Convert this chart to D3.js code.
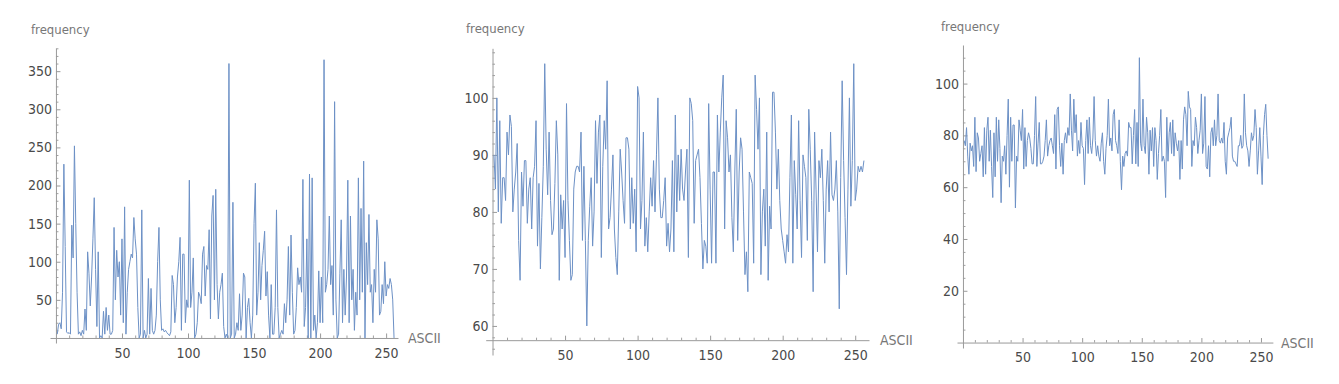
<!DOCTYPE html>
<html><head><meta charset="utf-8">
<script src="https://cdn.jsdelivr.net/npm/d3@7"></script>
<style>
body{margin:0;background:#fff;}
svg{display:block;}
.tl text{font-family:"Liberation Sans Narrow","DejaVu Sans Condensed","Liberation Sans",sans-serif;font-size:14px;fill:#4a4a4a;}
.lab{font-family:"Liberation Sans Narrow","DejaVu Sans Condensed","Liberation Sans",sans-serif;font-size:13px;fill:#777;}
</style></head><body>
<script>
// ASCII code frequencies, index 1..256
const plainFreq = [5,18,20,12,60,228,120,8,6,7,
5,148,105,252,150,60,5,8,3,10,
5,38,10,113,85,42,80,130,184,90,
15,113,0,3,0,35,5,40,10,30,
5,5,10,145,50,115,80,100,30,130,
20,172,5,60,90,100,110,105,158,130,
110,40,0,5,168,0,10,0,5,78,
5,65,10,5,10,30,100,145,50,10,
12,8,10,7,5,3,8,82,70,20,
40,80,100,132,10,110,110,20,50,40,
207,40,60,105,0,5,20,60,55,45,
110,120,55,95,90,142,25,160,187,50,
195,70,25,60,70,85,15,0,5,0,
360,0,5,178,0,5,20,10,58,10,
30,85,80,0,40,52,20,0,30,150,
203,30,60,125,50,95,115,140,55,87,
30,0,70,5,5,40,168,40,0,5,
10,5,45,20,50,120,30,135,60,5,
10,40,92,70,80,60,208,15,40,130,
0,215,0,210,10,30,0,20,88,20,
80,20,365,60,70,90,160,70,95,30,
310,50,0,5,85,155,20,90,30,80,
207,20,160,50,90,10,60,30,210,50,
170,60,232,0,125,70,162,60,70,20,
90,60,155,130,30,35,70,45,100,55,
70,65,78,70,50,0];

const cipherFreq = [90,84,100,80,96,78,86,86,82,94,
90,97,95,80,84,87,92,75,68,87,
81,89,89,78,84,86,77,86,88,96,
74,85,70,79,88,106,91,83,94,82,
76,77,85,96,90,68,83,77,82,72,
99,82,75,68,69,84,87,88,88,87,
94,75,88,75,60,75,81,86,74,80,
96,85,94,97,72,88,96,91,103,77,
79,84,90,77,72,69,80,91,87,82,
78,93,93,91,77,86,78,84,73,102,
100,77,82,94,74,79,73,80,86,81,
89,80,90,100,84,79,79,82,86,74,
78,73,77,89,73,97,80,90,82,91,
84,82,87,91,72,100,99,96,78,89,
90,91,86,78,70,75,74,71,99,84,
71,87,87,71,97,87,94,100,104,77,
96,93,87,90,79,73,87,98,75,87,
93,91,80,69,73,66,87,86,85,71,
104,98,91,100,69,80,84,74,94,68,
81,77,101,101,94,84,91,82,77,75,
73,71,76,73,86,97,71,89,83,77,
96,82,72,90,88,86,75,98,91,82,
66,94,84,73,89,86,91,82,71,84,
89,80,94,83,82,84,89,80,63,86,
103,89,79,69,84,100,81,89,106,82,
84,88,87,88,87,89];

const randFreq = [78,76,83,72,65,77,74,76,68,87,
66,81,79,70,73,76,64,83,65,82,
87,70,82,68,56,81,64,87,70,86,
75,54,72,70,76,65,80,94,60,87,
70,84,84,52,72,70,86,82,78,90,
67,83,68,78,81,79,75,69,69,80,
95,68,77,85,69,69,70,72,78,86,
72,76,78,79,76,73,88,67,90,91,
76,68,77,65,78,81,77,83,80,96,
82,74,94,81,88,72,78,73,85,76,
75,61,78,86,73,87,76,73,79,95,
78,72,76,72,70,77,81,70,65,75,
80,94,76,79,74,88,90,78,76,73,
86,70,59,72,68,73,74,72,85,83,
83,69,80,90,69,85,68,110,77,74,
94,76,73,87,81,65,82,74,83,68,
83,78,63,73,80,90,70,72,70,56,
87,70,81,85,73,86,72,81,77,74,
78,63,78,67,86,91,88,76,97,91,
90,68,78,76,87,83,73,78,82,96,
73,77,95,68,67,76,64,81,83,76,
86,76,80,96,78,77,79,77,85,70,
65,79,81,83,87,72,70,70,69,68,
76,76,80,75,76,96,81,76,74,68,
74,81,78,80,90,83,65,74,83,72,
61,80,88,92,80,71];

const xTicks = [50,100,150,200,250];
const yTicks1 = [50,100,150,200,250,300,350];
const yTicks2 = [60,70,80,90,100];
const yTicks3 = [20,40,60,80,100];
const xLabel = "ASCII", yLabel = "frequency";

const panels = [
  {data: plainFreq, xd:[-4.5,259], xr:[50,398], yd:[-6.6,380], yr:[343,48.3], xAxisAt:0,
   yTicks:yTicks1, yMinor:d3.range(10,381,10), xMinor:d3.range(10,259,10),
   freqPos:[31,34], asciiPos:[408,343]},
  {data: cipherFreq, xd:[-4.7,259.5], xr:[485.7,869], yd:[54.9,108.7], yr:[355,48.3], xAxisAt:57.5,
   yTicks:yTicks2, yMinor:d3.range(56,109,2), xMinor:d3.range(10,259,10),
   freqPos:[466,33], asciiPos:[880,345]},
  {data: randFreq, xd:[-5,260], xr:[957,1272.9], yd:[-2.1,114.9], yr:[348,45], xAxisAt:0,
   yTicks:yTicks3, yMinor:d3.range(5,115,5), xMinor:d3.range(10,260,10),
   freqPos:[941,31], asciiPos:[1281,348]}
];

const svg = d3.select("body").append("svg").attr("width",1339).attr("height",384);
svg.append("rect").attr("width",1339).attr("height",384).attr("fill","#fff");

panels.forEach(p=>{
  const x = d3.scaleLinear().domain(p.xd).range(p.xr);
  const y = d3.scaleLinear().domain(p.yd).range(p.yr);
  const g = svg.append("g");
  const ax0 = y(p.xAxisAt), ay0 = x(0);

  // minor ticks
  g.append("g").attr("transform",`translate(0,${ax0})`)
    .call(d3.axisBottom(x).tickValues(p.xMinor.filter(v=>v%50)).tickSize(-2.5).tickFormat(""))
    .call(s=>{s.select(".domain").remove(); s.selectAll("line").attr("stroke","#a0a0a0");});
  g.append("g").attr("transform",`translate(${ay0},0)`)
    .call(d3.axisLeft(y).tickValues(p.yMinor.filter(v=>!p.yTicks.includes(v))).tickSize(-2.5).tickFormat(""))
    .call(s=>{s.select(".domain").remove(); s.selectAll("line").attr("stroke","#a0a0a0");});

  // major axes
  g.append("g").attr("class","tl").attr("transform",`translate(0,${ax0})`)
    .call(d3.axisBottom(x).tickValues(xTicks).tickSizeInner(-4.5).tickSizeOuter(0).tickPadding(10))
    .call(s=>{s.select(".domain").attr("stroke","#9a9a9a"); s.selectAll("line").attr("stroke","#9a9a9a");});
  g.append("g").attr("class","tl").attr("transform",`translate(${ay0},0)`)
    .call(d3.axisLeft(y).tickValues(p.yTicks).tickSizeInner(-4.5).tickSizeOuter(0).tickPadding(4))
    .call(s=>{s.select(".domain").attr("stroke","#9a9a9a"); s.selectAll("line").attr("stroke","#9a9a9a");});
  g.selectAll(".tl text").attr("fill","#4a4a4a");

  // line
  const line = d3.line().x((d,i)=>x(i+1)).y(d=>y(d));
  g.append("path").datum(p.data).attr("d",line)
    .attr("fill","none").attr("stroke","#6d91c6").attr("stroke-width",1)
    .attr("stroke-linejoin","round");

  g.append("text").attr("class","lab").attr("x",p.freqPos[0]).attr("y",p.freqPos[1]).text(yLabel);
  g.append("text").attr("class","lab").attr("x",p.asciiPos[0]).attr("y",p.asciiPos[1])
    .style("font-size","14px").text(xLabel);
});
</script>
</body></html>
